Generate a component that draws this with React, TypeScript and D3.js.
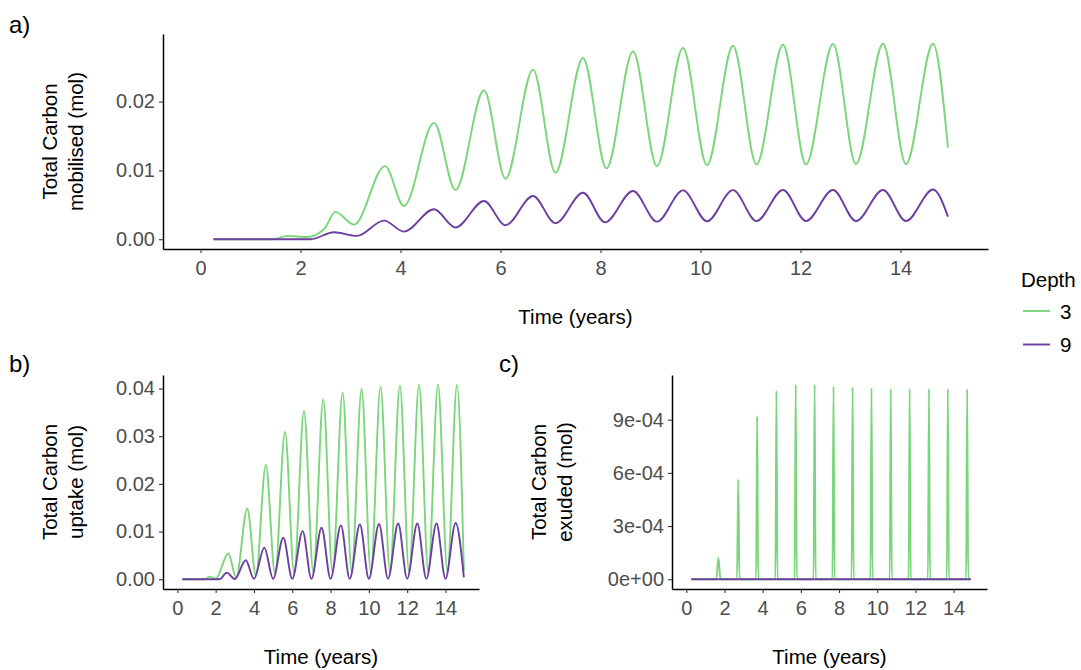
import { useEffect, useRef } from 'react';
import * as d3 from 'd3';

// values
const depths = ['3', '9'];
const depthColours = ['#7ad67a', '#6c40a0'];

const timeSpan = [0, 15];
const timeTicks = [0, 2, 4, 6, 8, 10, 12, 14];

// a) total carbon mobilised (peaks / troughs)
const mobilisedT3 = [0.26, 1.45, 1.73, 2.13, 2.47, 2.7, 3.07, 3.69, 4.07, 4.67, 5.1, 5.67, 6.1, 6.65, 7.1, 7.65, 8.12, 8.65, 9.13, 9.65, 10.13, 10.65, 11.12, 11.65, 12.11, 12.65, 13.11, 13.65, 14.11, 14.65, 14.95];
const mobilised3 = [0, 0, 0.00048, 0.00033, 0.00145, 0.00398, 0.00212, 0.01062, 0.00483, 0.01691, 0.00714, 0.02164, 0.0088, 0.02464, 0.00967, 0.02633, 0.01029, 0.02729, 0.01062, 0.02778, 0.01077, 0.02812, 0.01087, 0.02826, 0.01087, 0.02836, 0.01091, 0.0284, 0.01091, 0.0284, 0.01329];
const mobilisedT9 = [0.26, 2.2, 2.67, 3.13, 3.67, 4.07, 4.67, 5.1, 5.67, 6.1, 6.65, 7.1, 7.65, 8.09, 8.65, 9.13, 9.65, 10.13, 10.65, 11.12, 11.65, 12.11, 12.65, 13.11, 13.65, 14.11, 14.65, 14.95];
const mobilised9 = [0, 0, 0.00101, 0.00048, 0.0027, 0.00111, 0.00435, 0.0017, 0.00556, 0.00203, 0.00628, 0.00232, 0.00676, 0.00246, 0.007, 0.00256, 0.0071, 0.00262, 0.00713, 0.00264, 0.00715, 0.00264, 0.00715, 0.00264, 0.00716, 0.00264, 0.00722, 0.00329];
const mobilisedTicks = [0, 0.01, 0.02];

// b) total carbon uptake
const uptakeT3 = [0.26, 1.45, 1.67, 2.0, 2.66, 3.07, 3.65, 4.1, 4.62, 5.1, 5.62, 6.1, 6.61, 7.1, 7.62, 8.1, 8.63, 9.1, 9.62, 10.1, 10.61, 11.1, 11.62, 12.1, 12.62, 13.1, 13.61, 14.1, 14.6, 14.96];
const uptake3 = [0, 0, 0.00056, 0.0001, 0.0054, 0.00035, 0.0148, 0.0008, 0.024, 0.0012, 0.0309, 0.0014, 0.0353, 0.0015, 0.0377, 0.0015, 0.0392, 0.0016, 0.0399, 0.0016, 0.0404, 0.0016, 0.0406, 0.0016, 0.0408, 0.0016, 0.0408, 0.0016, 0.0408, 0.0017];
const uptakeT9 = [0.26, 2.2, 2.58, 3.0, 3.57, 4.0, 4.54, 5.0, 5.53, 6.0, 6.54, 7.0, 7.53, 8.0, 8.54, 9.0, 9.53, 10.0, 10.53, 11.0, 11.53, 12.0, 12.53, 13.0, 13.53, 14.0, 14.53, 14.96];
const uptake9 = [0, 0, 0.0014, 0.00005, 0.004, 0.0001, 0.0066, 0.0001, 0.0087, 0.0001, 0.0101, 0.0001, 0.0108, 0.0001, 0.0113, 0.0001, 0.0115, 0.0001, 0.0116, 0.0001, 0.0117, 0.0001, 0.0117, 0.0001, 0.0117, 0.0001, 0.0118, 0.0004];
const uptakeTicks = [0, 0.01, 0.02, 0.03, 0.04];

// c) total carbon exuded (spikes for depth 3, flat for depth 9)
const exudedSpikeT3 = [1.68, 2.72, 3.71, 4.72, 5.73, 6.72, 7.71, 8.71, 9.7, 10.71, 11.7, 12.71, 13.7, 14.71];
const exudedSpike3 = [0.000122, 0.000563, 0.000919, 0.001063, 0.001097, 0.001097, 0.001087, 0.001083, 0.001078, 0.001074, 0.001074, 0.001074, 0.001074, 0.001072];
const exudedSpikeHalfWidth3 = [0.11, 0.065, 0.055, 0.055, 0.055, 0.055, 0.055, 0.055, 0.055, 0.055, 0.055, 0.055, 0.055, 0.055];
const exudedT9 = [0.26, 14.9];
const exuded9 = [0, 0];
const exudedTicks = [0, 0.0003, 0.0006, 0.0009];
const exudedTickLabels = ['0e+00', '3e-04', '6e-04', '9e-04'];

const FONT = '"Liberation Sans", Arial, Helvetica, sans-serif';

const zip = (ts, vs) => ts.map((t, i) => [t, vs[i]]);

const exudedPoints3 = [[0.26, 0]];
exudedSpikeT3.forEach((t, i) => {
  const w = exudedSpikeHalfWidth3[i];
  exudedPoints3.push([t - w, 0], [t, exudedSpike3[i]], [t + w, 0]);
});
exudedPoints3.push([14.9, 0]);

function Panel({ left, right, top, bottom, series, yTicks, yFormat, titleLines, titleX, xTitleY }) {
  const gx = useRef(null);
  const gy = useRef(null);

  const pad = (timeSpan[1] - timeSpan[0]) * 0.05;
  const xScale = d3.scaleLinear()
    .domain([timeSpan[0] - pad, timeSpan[1] + pad])
    .range([left, right]);

  const yMax = d3.max(series, s => d3.max(s.points, p => p[1]));
  const yScale = d3.scaleLinear()
    .domain([-0.05 * yMax, yMax * 1.05])
    .range([bottom, top]);

  const line = d3.line()
    .x(d => xScale(d[0]))
    .y(d => yScale(d[1]))
    .curve(d3.curveMonotoneX);

  useEffect(() => {
    const g = d3.select(gx.current);
    g.call(d3.axisBottom(xScale).tickValues(timeTicks).tickSize(4).tickSizeOuter(0).tickPadding(8).tickFormat(d3.format('d')));
    styleAxis(g);
  }, [xScale]);

  useEffect(() => {
    const g = d3.select(gy.current);
    g.call(d3.axisLeft(yScale).tickValues(yTicks).tickSize(4).tickSizeOuter(0).tickPadding(4).tickFormat(yFormat));
    styleAxis(g);
  }, [yScale]);

  const cy = (top + bottom) / 2;

  return (
    <g>
      {series.map((s, i) => (
        <path key={i} d={line(s.points)} fill="none" stroke={s.colour} strokeWidth="1.9" strokeLinejoin="round" />
      ))}
      <g ref={gx} transform={`translate(0, ${bottom})`} />
      <g ref={gy} transform={`translate(${left}, 0)`} />
      <text transform={`translate(${titleX}, ${cy}) rotate(-90)`} textAnchor="middle"
        style={{ fontFamily: FONT, fontSize: '20.5px', fill: '#000' }}>
        <tspan x="0" y="0">{titleLines[0]}</tspan>
        <tspan x="0" y="26">{titleLines[1]}</tspan>
      </text>
      <text x={(left + right) / 2} y={xTitleY} textAnchor="middle"
        style={{ fontFamily: FONT, fontSize: '20.5px', fill: '#000' }}>Time (years)</text>
    </g>
  );
}

function styleAxis(g) {
  g.attr('font-family', FONT).attr('font-size', 20);
  g.select('.domain').attr('stroke', '#000').attr('stroke-width', 1.5);
  g.selectAll('.tick line').attr('stroke', '#333').attr('stroke-width', 1.1);
  g.selectAll('.tick text').attr('fill', '#4d4d4d');
}

export default function App() {
  const mobilisedSeries = [
    { colour: depthColours[0], points: zip(mobilisedT3, mobilised3) },
    { colour: depthColours[1], points: zip(mobilisedT9, mobilised9) },
  ];
  const uptakeSeries = [
    { colour: depthColours[0], points: zip(uptakeT3, uptake3) },
    { colour: depthColours[1], points: zip(uptakeT9, uptake9) },
  ];
  const exudedSeries = [
    { colour: depthColours[0], points: exudedPoints3 },
    { colour: depthColours[1], points: zip(exudedT9, exuded9) },
  ];

  const tagStyle = { fontFamily: FONT, fontSize: '24px', fill: '#000' };
  const legendStyle = { fontFamily: FONT, fontSize: '20.5px', fill: '#000' };

  return (
    <svg width={1081} height={670} viewBox="0 0 1081 670"
      style={{ position: 'absolute', left: 0, top: 0, background: '#fff' }}>
      <rect width={1081} height={670} fill="#fff" />

      <text x={9} y={33} style={tagStyle}>a)</text>
      <Panel left={163} right={988} top={34} bottom={249}
        series={mobilisedSeries} yTicks={mobilisedTicks} yFormat={d3.format('.2f')}
        titleLines={['Total Carbon', 'mobilised (mol)']} titleX={57} xTitleY={324} />

      <text x={9} y={372} style={tagStyle}>b)</text>
      <Panel left={163} right={479} top={375} bottom={589}
        series={uptakeSeries} yTicks={uptakeTicks} yFormat={d3.format('.2f')}
        titleLines={['Total Carbon', 'uptake (mol)']} titleX={57} xTitleY={664} />

      <text x={499} y={372} style={tagStyle}>c)</text>
      <Panel left={672} right={987} top={375} bottom={589}
        series={exudedSeries} yTicks={exudedTicks} yFormat={(d, i) => exudedTickLabels[i]}
        titleLines={['Total Carbon', 'exuded (mol)']} titleX={546} xTitleY={664} />

      <g>
        <text x={1021} y={287} style={legendStyle}>Depth</text>
        {depths.map((d, i) => (
          <g key={d} transform={`translate(0, ${311 + i * 33.5})`}>
            <line x1={1023} x2={1050} y1={0} y2={0} stroke={depthColours[i]} strokeWidth="1.9" />
            <text x={1060} y={7.5} style={legendStyle}>{d}</text>
          </g>
        ))}
      </g>
    </svg>
  );
}
